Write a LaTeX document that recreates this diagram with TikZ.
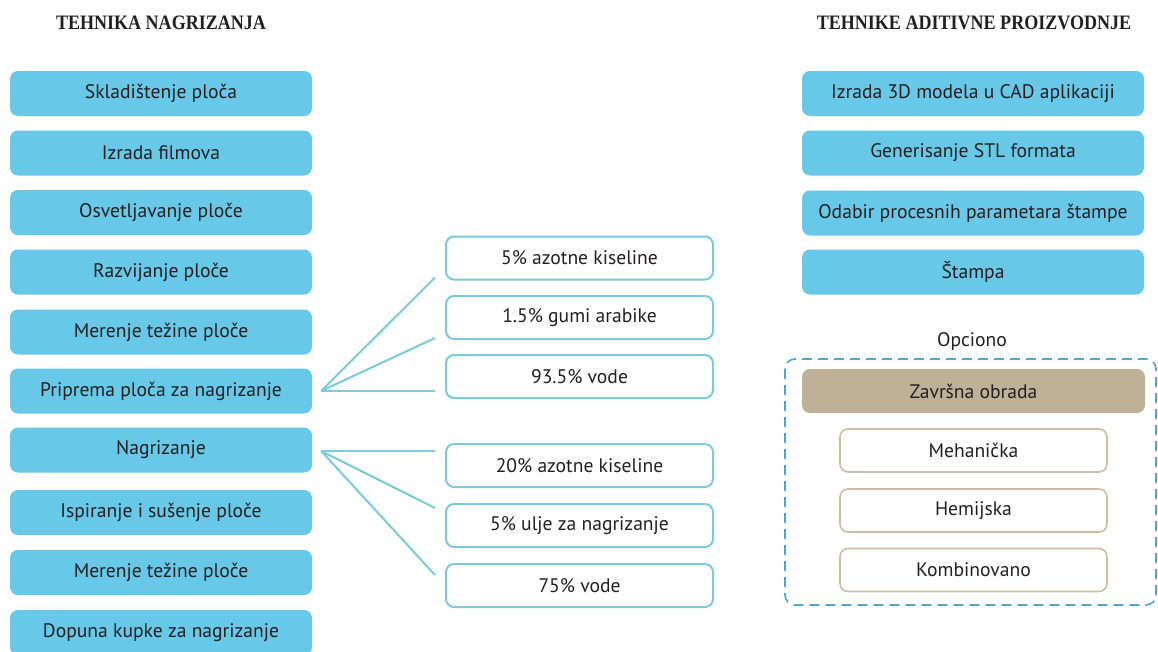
\documentclass[tikz,border=0pt]{standalone}
\usepackage{fontspec}
\setmainfont{PT Sans}
\newfontfamily\titlefont[FakeStretch=0.88]{Liberation Serif}
\usetikzlibrary{calc}
\definecolor{boxblue}{RGB}{104,200,232}
\definecolor{lineblue}{RGB}{122,202,224}
\definecolor{dashblue}{RGB}{74,168,204}
\definecolor{tanfill}{RGB}{190,177,152}
\definecolor{tanline}{RGB}{203,190,165}
\definecolor{txt}{RGB}{35,31,32}
\tikzset{
  bodyfont/.style={font=\fontsize{19.6}{22}\selectfont},
  fillbox/.style={fill=boxblue, draw=none, rounded corners=8pt, minimum height=45pt, inner sep=0pt, text=txt, bodyfont},
  leftbox/.style={fillbox, minimum width=302pt},
  rightbox/.style={fillbox, minimum width=342pt},
  midbox/.style={draw=lineblue, line width=2pt, fill=white, rounded corners=8pt, minimum width=267pt, minimum height=43pt, inner sep=0pt, text=txt, bodyfont},
  tanbox/.style={draw=tanline, line width=1.6pt, fill=white, rounded corners=8pt, minimum width=267pt, minimum height=43pt, inner sep=0pt, text=txt, bodyfont},
  fan/.style={draw=lineblue, line width=2pt},
  titletext/.style={text=txt, font=\titlefont\bfseries\fontsize{20.5}{22}\selectfont, inner sep=0pt}
}
\begin{document}
\begin{tikzpicture}[x=1pt,y=-1pt]
\useasboundingbox[fill=white] (0,0) rectangle (1158,651);
% titles
\node[titletext] (t1) at (161,23) {TEHNIKA NAGRIZANJA};
\node[titletext] (t2) at (974,23) {TEHNIKE ADITIVNE PROIZVODNJE};
% left column
\node[leftbox] (l1) at (161,93.5) {Skladištenje ploča};
\node[leftbox] (l2) at (161,153) {Izrada filmova};
\node[leftbox] (l3) at (161,212.5) {Osvetljavanje ploče};
\node[leftbox] (l4) at (161,272) {Razvijanje ploče};
\node[leftbox] (l5) at (161,332) {Merenje težine ploče};
\node[leftbox] (l6) at (161,391) {Priprema ploča za nagrizanje};
\node[leftbox] (l7) at (161,450) {Nagrizanje};
\node[leftbox] (l8) at (161,512.5) {Ispiranje i sušenje ploče};
\node[leftbox] (l9) at (161,572.5) {Merenje težine ploče};
\node[leftbox] (l10) at (161,632.5) {Dopuna kupke za nagrizanje};
% middle boxes
\node[midbox] (m1) at (579.5,258) {5\% azotne kiseline};
\node[midbox] (m2) at (579.5,317.5) {1.5\% gumi arabike};
\node[midbox] (m3) at (579.5,376.5) {93.5\% vode};
\node[midbox] (m4) at (579.5,465.5) {20\% azotne kiseline};
\node[midbox] (m5) at (579.5,525.5) {5\% ulje za nagrizanje};
\node[midbox] (m6) at (579.5,585.5) {75\% vode};
% fan lines
\coordinate (fa) at ($(l6.east)+(9,0)$);
\coordinate (fa1) at ($(m1.south west)+(-10,-3)$);
\coordinate (fa2) at ($(m2.south west)+(-10,-2)$);
\coordinate (fa3) at ($(m3.west)+(-10,14.5)$);
\draw[fan] (fa) -- (fa1);
\draw[fan] (fa) -- (fa2);
\draw[fan] (fa) -- (fa3);
\coordinate (fb) at ($(l7.east)+(9,1)$);
\coordinate (fb1) at ($(m4.north west)+(-10,8)$);
\coordinate (fb2) at ($(m5.north west)+(-10,5)$);
\coordinate (fb3) at ($(m6.north west)+(-10,12)$);
\draw[fan] (fb) -- (fb1);
\draw[fan] (fb) -- (fb2);
\draw[fan] (fb) -- (fb3);
% right column
\node[rightbox] (r1) at (973,93.5) {Izrada 3D modela u CAD aplikaciji};
\node[rightbox] (r2) at (973,153) {Generisanje STL formata};
\node[rightbox] (r3) at (973,213) {Odabir procesnih parametara štampe};
\node[rightbox] (r4) at (973,272) {Štampa};
\node[text=txt, bodyfont, inner sep=0pt] (op) at (972,341) {Opciono};
\draw[dashblue, line width=1.6pt, dash pattern=on 10pt off 6pt, rounded corners=10pt] (785,359) rectangle (1156,605);
\node[fillbox, fill=tanfill, minimum width=343pt, minimum height=44pt] (zo) at (973.5,391) {Završna obrada};
\node[tanbox] (t_me) at (973.5,450.5) {Mehanička};
\node[tanbox] (t_he) at (973.5,510.5) {Hemijska};
\node[tanbox] (t_ko) at (973.5,570) {Kombinovano};
\end{tikzpicture}
\end{document}
